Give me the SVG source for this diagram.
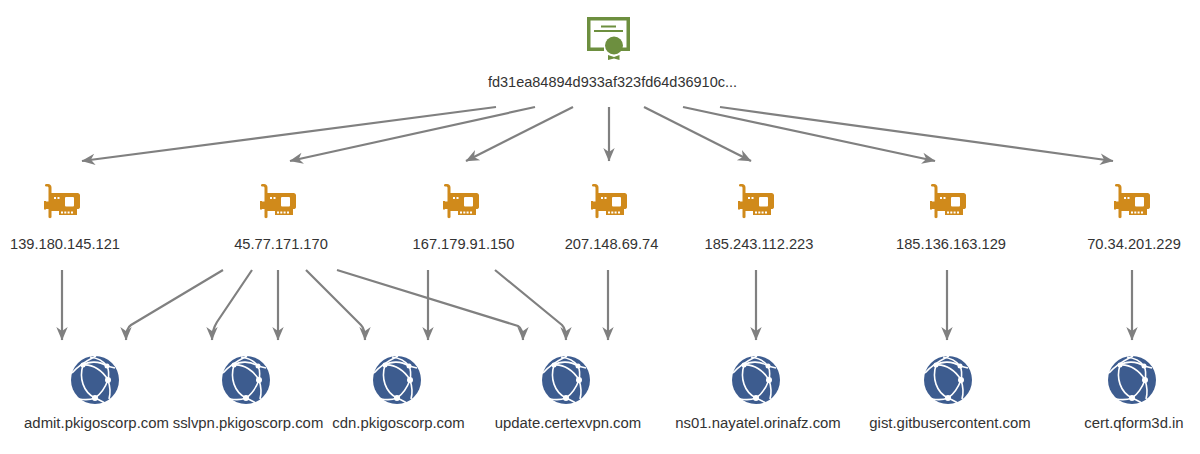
<svg xmlns="http://www.w3.org/2000/svg" width="1200" height="454" viewBox="0 0 1200 454">
<style>
text{font-family:"Liberation Sans",Arial,sans-serif;fill:#333;text-anchor:middle}
.k{font-size:14.5px}
.i{font-size:14.65px}
.d{font-size:14.9px}
.c{fill:none;stroke:#808080;stroke-width:2.2;marker-end:url(#a)}
</style>
<defs>
<marker id="a" markerUnits="userSpaceOnUse" markerWidth="15" markerHeight="16" viewBox="0 0 15 16" refX="13.500" refY="8" orient="auto"><path d="M14 8L0.500 2.300L4.500 8L0.500 13.700Z" fill="#808080"/></marker>
<symbol id="nic" viewBox="0 0 36 34" width="36" height="34" overflow="visible">
<path fill="#d08a1b" d="M4 0C6 0 7.500 1.500 7.500 3.500V9H33.500C35 9 36 10 36 11.500V23C36 24.500 35 25 33.500 25H33V31H15V27H7.500V33C7.500 34.500 4.500 34.500 4.500 33V25H2V25.500H0V17H2V17.500H4.500V4C4.500 3 4 2.500 3 2.500C1.500 2.500 1 2.300 1 1.200C1 .3 1.700 0 3 0Z"/>
<rect x="21" y="13" width="9" height="9.500" rx="1" fill="#fff"/>
<path fill="#fff" d="M10 13h2v2h-2zM13.500 13h2v2h-2zM17 27.500h2v2h-2zM20.300 27.500h2v2h-2zM23.600 27.500h2v2h-2zM27 27.500h2v2h-2z"/>
</symbol>
<symbol id="globe" viewBox="0 0 48 48" width="48" height="48">
<circle cx="24" cy="24" r="24" fill="#3d5c8f"/>
<g fill="none" stroke="#fff" stroke-width="1.600">
<path d="M1 17C5 12 15 5 25 0"/>
<path d="M12 9C22 8 32 15 37 24"/>
<path d="M12 9C8 22 12 36 24 42"/>
<path d="M12 9C18 5 28 5 36 10"/>
<path d="M19 1C27 2 33 6 36 10C38 14 38 19 37 24"/>
<path d="M37 24C34 32 30 38 24 42"/>
<path d="M37 24C39 30 40 36 38 43"/>
<path d="M8 43C14 44 19 44 24 42C29 44 32 46 34 47"/>
<path d="M36 10L44 12"/>
</g>
<circle cx="12" cy="9" r="2.500" fill="#fff"/><circle cx="36" cy="10" r="2.500" fill="#fff"/><circle cx="37" cy="24" r="3" fill="#fff"/><circle cx="24" cy="42" r="3" fill="#fff"/>
</symbol>
</defs>
<g id="connectors">
<path class="c" d="M496 107L82 161"/>
<path class="c" d="M535 107L290 161"/>
<path class="c" d="M573 107L466 161"/>
<path class="c" d="M609 107V161"/>
<path class="c" d="M644 107L751 161"/>
<path class="c" d="M683 107L935 161"/>
<path class="c" d="M720 107L1113 161"/>
<path class="c" d="M62 270V340"/>
<path class="c" d="M223 270L131 325Q126 328 126 340"/>
<path class="c" d="M252 270L217 322Q212 330 212 340"/>
<path class="c" d="M278 270V340"/>
<path class="c" d="M306 270L361 325Q365 329 365 340"/>
<path class="c" d="M337 270L518 326Q523 329 523 340"/>
<path class="c" d="M428 270V340"/>
<path class="c" d="M495 270L562 325Q566 329 566 340"/>
<path class="c" d="M608 270V340"/>
<path class="c" d="M756 270V340"/>
<path class="c" d="M947 270V340"/>
<path class="c" d="M1132 270V340"/>
</g>
<g id="cert">
<path fill="#6d8f3f" d="M587 17H630V51H621V47.500H626.500V20.500H590.500V47.500H604V51H587Z"/>
<path stroke="#6d8f3f" stroke-width="2" d="M601 26.500H616M594 31H623"/>
<circle cx="614" cy="45.500" r="9" fill="#6d8f3f"/>
<path fill="#6d8f3f" d="M608 55L614 57L619.500 55V60L614 58.500L608 60Z"/>
<text class="k" x="612.500" y="87">fd31ea84894d933af323fd64d36910c...</text>
</g>
<g id="ip1"><use href="#nic" x="44" y="184"/><text class="i" x="65" y="249">139.180.145.121</text></g>
<g id="ip2"><use href="#nic" x="260" y="184"/><text class="i" x="281" y="249">45.77.171.170</text></g>
<g id="ip3"><use href="#nic" x="443" y="184"/><text class="i" x="463.500" y="249">167.179.91.150</text></g>
<g id="ip4"><use href="#nic" x="591" y="184"/><text class="i" x="611.500" y="249">207.148.69.74</text></g>
<g id="ip5"><use href="#nic" x="738" y="184"/><text class="i" x="759" y="249">185.243.112.223</text></g>
<g id="ip6"><use href="#nic" x="930" y="184"/><text class="i" x="951" y="249">185.136.163.129</text></g>
<g id="ip7"><use href="#nic" x="1114" y="184"/><text class="i" x="1134" y="249">70.34.201.229</text></g>
<g id="d1"><use href="#globe" x="71" y="356"/><text class="d" x="96.500" y="428">admit.pkigoscorp.com</text></g>
<g id="d2"><use href="#globe" x="222" y="356"/><text class="d" x="248" y="428">sslvpn.pkigoscorp.com</text></g>
<g id="d3"><use href="#globe" x="373" y="356"/><text class="d" x="398.500" y="428">cdn.pkigoscorp.com</text></g>
<g id="d4"><use href="#globe" x="542" y="356"/><text class="d" x="568" y="428">update.certexvpn.com</text></g>
<g id="d5"><use href="#globe" x="732" y="356"/><text class="d" x="758" y="428">ns01.nayatel.orinafz.com</text></g>
<g id="d6"><use href="#globe" x="924" y="356"/><text class="d" x="950" y="428">gist.gitbusercontent.com</text></g>
<g id="d7"><use href="#globe" x="1108" y="356"/><text class="d" x="1134" y="428">cert.qform3d.in</text></g>
</svg>
